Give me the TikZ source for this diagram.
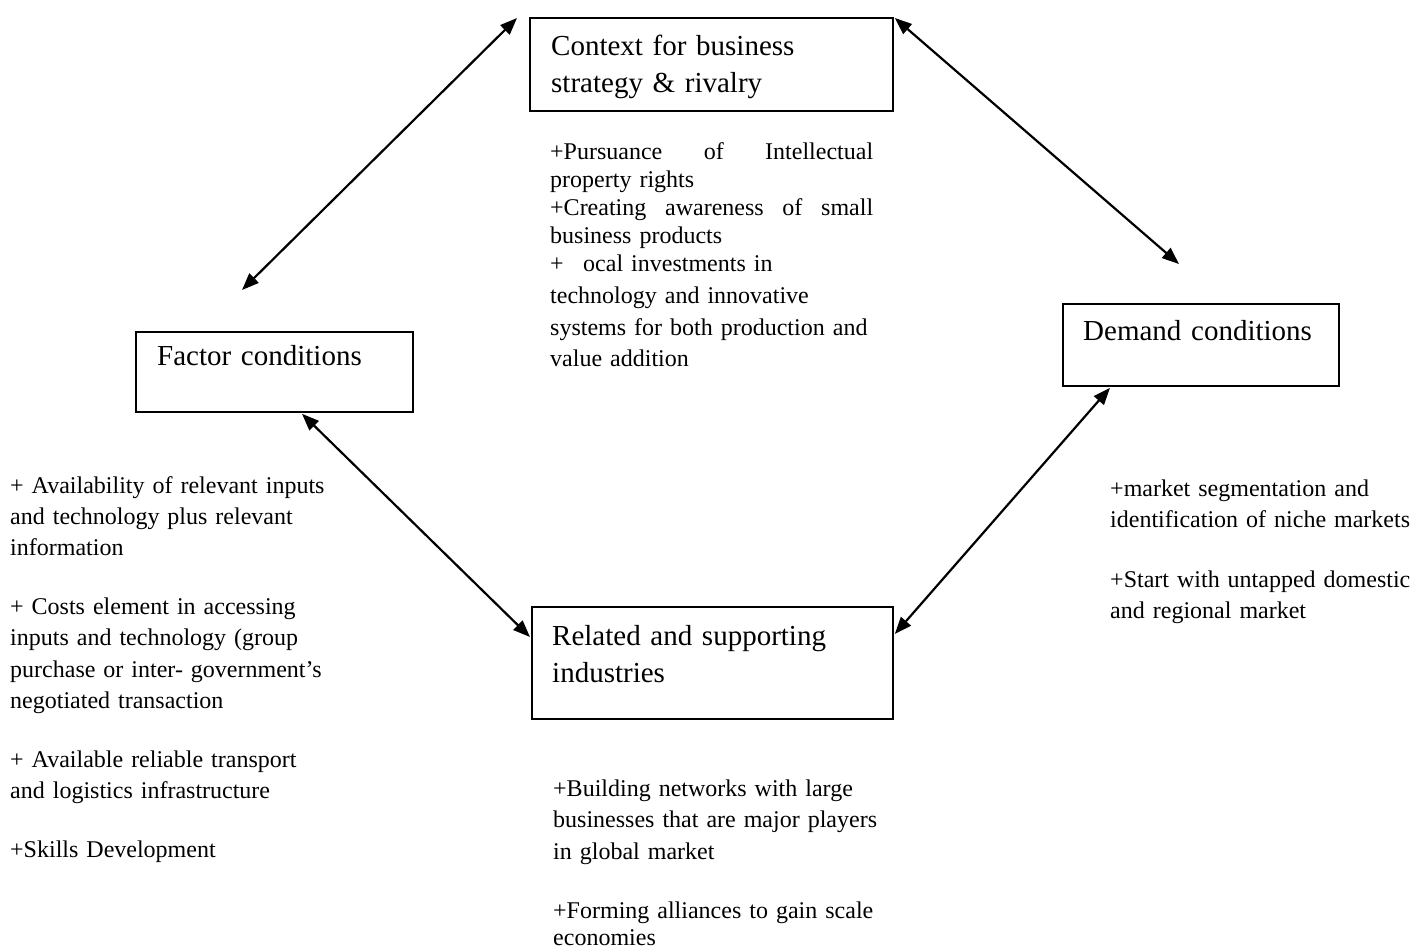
\documentclass[tikz,border=0pt]{standalone}
\usepackage{fontspec}
\setmainfont{Liberation Serif}
\usetikzlibrary{arrows.meta,calc}
\begin{document}
\begin{tikzpicture}[x=1pt,y=-1pt,
  box/.style={draw, line width=1.8pt, anchor=north west, inner sep=0pt},
  boxlbl/.style={anchor=base west, inner sep=0pt, text width=#1, align=left,
    font=\fontsize{29pt}{37pt}\selectfont},
  body/.style={anchor=base west, inner sep=0pt, text width=#1, align=left},
  arr/.style={{Triangle[length=17pt,width=13pt]}-{Triangle[length=17pt,width=13pt]}, line width=2.2pt}]
\useasboundingbox (0,0) rectangle (1421,951);

% boxes
\node[box, minimum width=363pt, minimum height=93pt] (ctx) at (529,17) {};
\node[box, minimum width=277pt, minimum height=80pt] (fac) at (135,331) {};
\node[box, minimum width=276pt, minimum height=82pt] (dem) at (1062,303) {};
\node[box, minimum width=361pt, minimum height=112pt] (rel) at (531,606) {};

% box labels
\node[boxlbl=340pt] (ctxl) at (551,55) {Context for business\\strategy \& rivalry};
\node[boxlbl=260pt] (facl) at (157,365) {Factor conditions};
\node[boxlbl=260pt] (deml) at (1083,340) {Demand conditions};
\node[boxlbl=340pt] (rell) at (552,645) {Related and supporting\\industries};

% body texts
\node[body=323pt, font=\fontsize{24pt}{28pt}\selectfont] (ctxb) at (550,159)
  {\makebox[323pt][l]{+Pursuance\hfill of\hfill Intellectual}\\
   property rights\\
   \makebox[323pt][l]{+Creating\hfill awareness\hfill of\hfill small}\\
   business products\\
   \makebox[33pt][l]{+}ocal investments in\\[4pt]
   technology and innovative\\[4pt]
   systems for both production and\\[3pt]
   value addition};

\node[body=340pt, font=\fontsize{24pt}{31.4pt}\selectfont] (facb) at (10,493)
  {+ Availability of relevant inputs\\
   and technology plus relevant\\
   information\\[27.2pt]
   + Costs element in accessing\\
   inputs and technology (group\\
   purchase or inter- government’s\\
   negotiated transaction\\[27.2pt]
   + Available reliable transport\\
   and logistics infrastructure\\[27.2pt]
   +Skills Development};

\node[body=310pt, font=\fontsize{24pt}{31pt}\selectfont] (demb) at (1110,496)
  {+market segmentation and\\
   identification of niche markets\\[29pt]
   +Start with untapped domestic\\
   and regional market};

\node[body=330pt, font=\fontsize{24pt}{31.8pt}\selectfont] (relb) at (553,796)
  {+Building networks with large\\
   businesses that are major players\\
   in global market\\[27.5pt]
   +Forming alliances to gain scale\\[-5pt]
   economies};

% connector end points
\coordinate (a1s) at ($(ctx.north west)+(-12,1)$);
\coordinate (a1e) at (242,290);
\coordinate (a2s) at ($(ctx.north east)+(1,1)$);
\coordinate (a2e) at (1179,264);
\coordinate (a3s) at ($(fac.south west)+(167,1)$);
\coordinate (a3e) at ($(rel.north west)+(-1,31)$);
\coordinate (a4s) at ($(dem.south west)+(48,1)$);
\coordinate (a4e) at ($(rel.north east)+(1,28)$);

\draw[arr] (a1s) -- (a1e);
\draw[arr] (a2s) -- (a2e);
\draw[arr] (a3s) -- (a3e);
\draw[arr] (a4s) -- (a4e);
\end{tikzpicture}
\end{document}
